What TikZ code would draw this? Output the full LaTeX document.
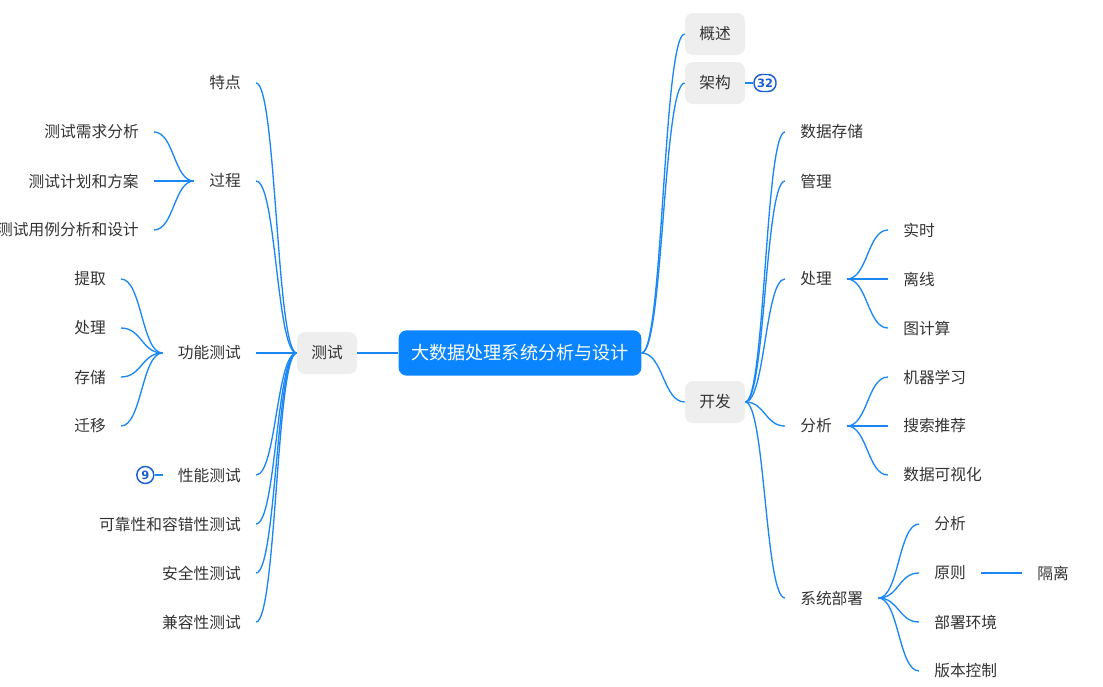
\documentclass[tikz,border=0pt]{standalone}
\usepackage{fontspec}
\setmainfont{Noto Sans CJK SC}
\newfontfamily\badgefont{DejaVu Sans}
\usetikzlibrary{calc,positioning}
\definecolor{mmBlue}{HTML}{0A84FF}
\definecolor{mmLine}{HTML}{1A87F5}
\definecolor{mmBadge}{HTML}{1A5FD3}
\definecolor{mmGrayL}{HTML}{EEEEEE}
\definecolor{mmText}{HTML}{333333}
\tikzset{
  mm-root/.style={fill=mmBlue, text=white, rounded corners=6pt,
    font=\fontsize{13.6}{16}\selectfont, minimum width=182pt,
    minimum height=34pt, inner sep=0pt},
  mm-box/.style={fill=mmGrayL, text=mmText, rounded corners=6pt,
    font=\fontsize{11.8}{14}\selectfont, minimum width=45pt,
    minimum height=31.5pt, inner sep=0pt},
  mm-leaf/.style={text=mmText, font=\fontsize{11.8}{14}\selectfont,
    inner xsep=11.25pt, inner ysep=2pt},
  mm-link/.style={draw=mmLine, line width=1pt},
  mm-curve/.style={to path={.. controls
    ($(\tikztostart)!0.5!(\tikztostart -| \tikztotarget)$) and
    ($(\tikztotarget)!0.5!(\tikztotarget -| \tikztostart)$) .. (\tikztotarget)}},
  mm-badge/.style={draw=mmBadge, line width=1.1pt, fill=white, text=mmBadge,
    font=\badgefont\bfseries\fontsize{8.6}{9}\selectfont, inner sep=0pt}
}
\begin{document}
\begin{tikzpicture}[x=0.75pt, y=-0.75pt]
\useasboundingbox (0,0) rectangle (1103,686);

% root and main topics
\node[mm-root] (root) at (520,353) {大数据处理系统分析与设计};
\node[mm-box] (test) at (327,353) {测试};
\node[mm-box] (ov) at (715,34) {概述};
\node[mm-box] (arch) at (715,83) {架构};
\node[mm-box] (dev) at (715,402) {开发};
\node[mm-badge, rounded corners=6pt, minimum width=16.5pt,
  minimum height=12.75pt, right=6pt of arch] (b32) {32};

\draw[mm-link] (root.west) -- (test.east);
\foreach \m in {ov,arch,dev}
  \draw[mm-link] (root.east) to[mm-curve] (\m.west);
\draw[mm-link] (arch.east) -- (b32.west);

% 开发
\node[mm-leaf, anchor=west] (ds) at (785,132) {数据存储};
\node[mm-leaf, anchor=west] (mg) at (785,181) {管理};
\node[mm-leaf, anchor=west] (pr) at (785,279) {处理};
\node[mm-leaf, anchor=west] (an) at (785,426) {分析};
\node[mm-leaf, anchor=west] (dp) at (785,598) {系统部署};
\foreach \m in {ds,mg,pr,an,dp}
  \draw[mm-link] (dev.east) to[mm-curve] (\m.west);

\node[mm-leaf, anchor=west] (rt) at (888,230) {实时};
\node[mm-leaf, anchor=west] (ol) at (888,279) {离线};
\node[mm-leaf, anchor=west] (gc) at (888,328) {图计算};
\foreach \m in {rt,ol,gc}
  \draw[mm-link] (pr.east) to[mm-curve] (\m.west);

\node[mm-leaf, anchor=west] (ml) at (888,377) {机器学习};
\node[mm-leaf, anchor=west] (sr) at (888,426) {搜索推荐};
\node[mm-leaf, anchor=west] (dv) at (888,475) {数据可视化};
\foreach \m in {ml,sr,dv}
  \draw[mm-link] (an.east) to[mm-curve] (\m.west);

\node[mm-leaf, anchor=west] (da) at (919,524) {分析};
\node[mm-leaf, anchor=west] (pc) at (919,573) {原则};
\node[mm-leaf, anchor=west] (de) at (919,622) {部署环境};
\node[mm-leaf, anchor=west] (vc) at (919,671) {版本控制};
\foreach \m in {da,pc,de,vc}
  \draw[mm-link] (dp.east) to[mm-curve] (\m.west);
\node[mm-leaf, anchor=west] (iso) at (1022,573) {隔离};
\draw[mm-link] (pc.east) -- (iso.west);

% 测试
\node[mm-leaf, anchor=east] (ft) at (256,83) {特点};
\node[mm-leaf, anchor=east] (ps) at (256,181) {过程};
\node[mm-leaf, anchor=east] (fn) at (256,353) {功能测试};
\node[mm-leaf, anchor=east] (pf) at (256,475) {性能测试};
\node[mm-leaf, anchor=east] (rl) at (256,524) {可靠性和容错性测试};
\node[mm-leaf, anchor=east] (sc) at (256,573) {安全性测试};
\node[mm-leaf, anchor=east] (cp) at (256,622) {兼容性测试};
\foreach \m in {ft,ps,fn,pf,rl,sc,cp}
  \draw[mm-link] (test.west) to[mm-curve] (\m.east);

\node[mm-leaf, anchor=east] (rq) at (154,132) {测试需求分析};
\node[mm-leaf, anchor=east] (pl) at (154,181) {测试计划和方案};
\node[mm-leaf, anchor=east] (tc) at (154,230) {测试用例分析和设计};
\foreach \m in {rq,pl,tc}
  \draw[mm-link] (ps.west) to[mm-curve] (\m.east);

\node[mm-leaf, anchor=east] (ex) at (121,279) {提取};
\node[mm-leaf, anchor=east] (hd) at (121,328) {处理};
\node[mm-leaf, anchor=east] (st) at (121,377) {存储};
\node[mm-leaf, anchor=east] (mv) at (121,426) {迁移};
\foreach \m in {ex,hd,st,mv}
  \draw[mm-link] (fn.west) to[mm-curve] (\m.east);

\node[mm-badge, circle, minimum size=12.75pt, left=6pt of pf] (b9) {9};
\draw[mm-link] (b9.east) -- (pf.west);
\end{tikzpicture}
\end{document}
